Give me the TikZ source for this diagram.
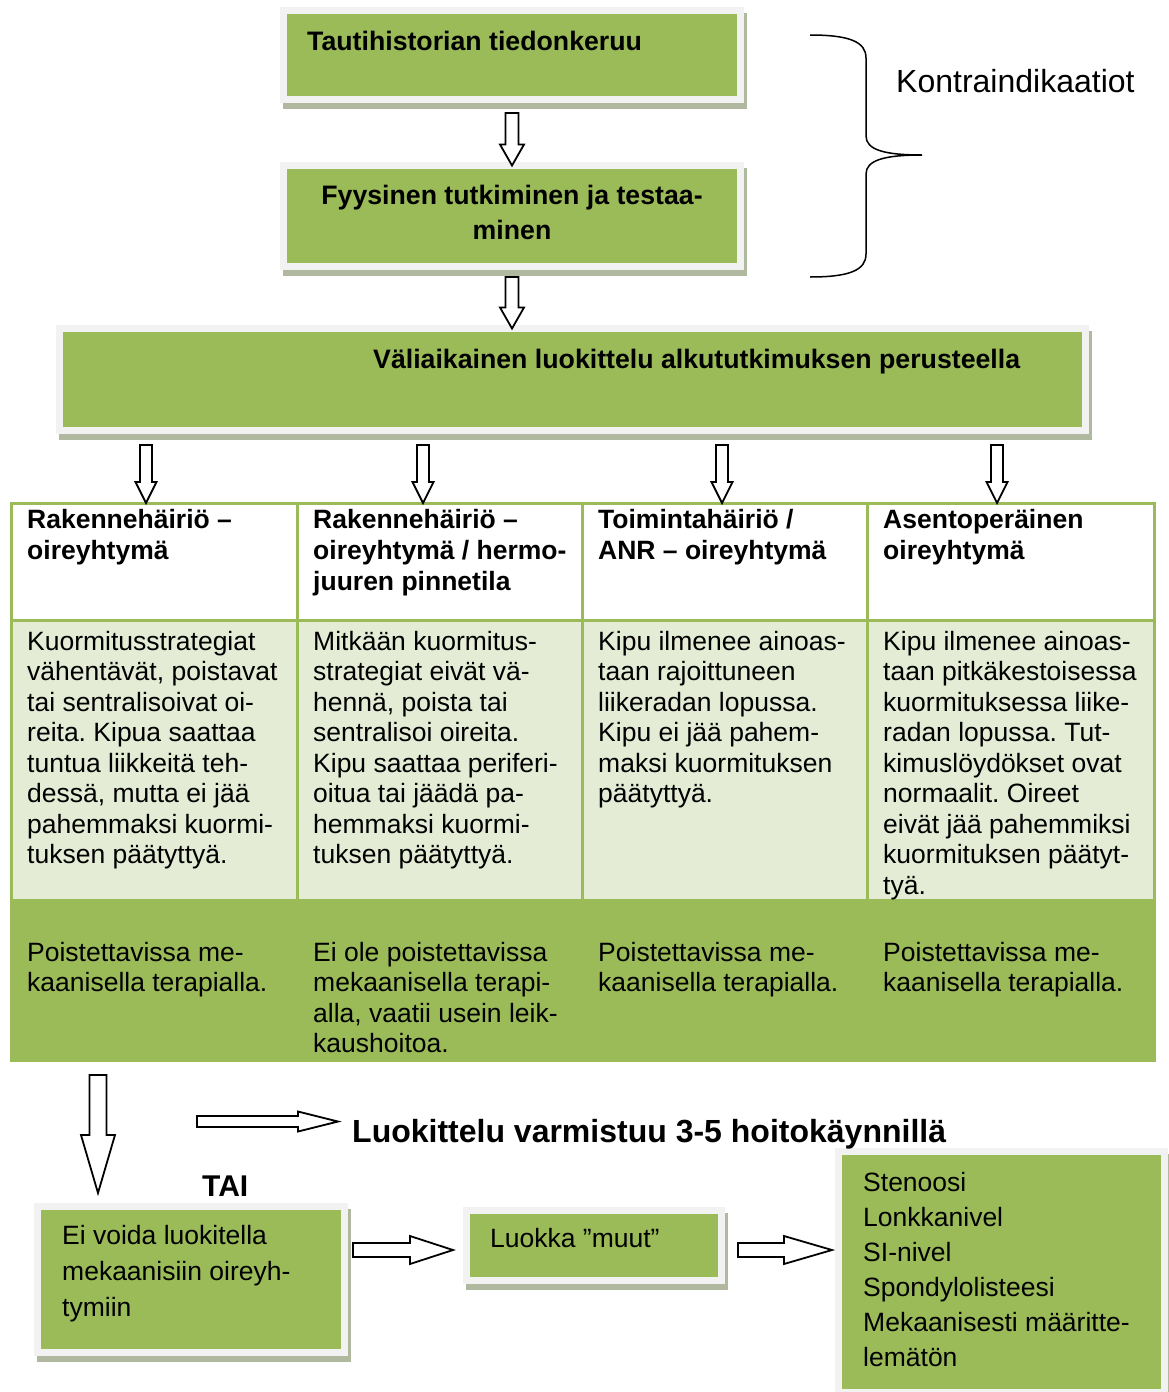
\documentclass[tikz,border=0pt]{standalone}
\usepackage{fontspec}
\setmainfont{Liberation Sans}
\usetikzlibrary{calc}
\frenchspacing

\definecolor{boxgreen}{HTML}{9BBB59}
\definecolor{palegreen}{HTML}{E4ECD5}
\definecolor{framegray}{HTML}{F2F2F2}
\definecolor{shadowgray}{HTML}{B1B8A0}

\newcommand{\bodysize}{\fontsize{26.5}{30.5}\selectfont}

\tikzset{
    gbox/.style={draw=framegray, fill=boxgreen, line width=7pt, outer sep=0pt, inner sep=0pt,
        preaction={draw=shadowgray, fill=shadowgray, transform canvas={shift={(3pt,-6pt)}}}},
    cell/.style={anchor=north west, line width=3pt, outer sep=0pt, inner sep=0pt},
    headcell/.style={cell, draw=boxgreen, fill=white, minimum height=117pt},
    bodycell/.style={cell, draw=boxgreen, fill=palegreen, minimum height=280pt},
    greencell/.style={cell, draw=boxgreen, fill=boxgreen, minimum height=160pt},
    body/.style={anchor=north west, align=left, inner sep=0pt, font=\bodysize},
    hdr/.style={body, font=\bfseries\fontsize{26.5}{31}\selectfont},
    title/.style={inner sep=0pt, font=\bfseries\fontsize{26.7}{31}\selectfont},
    downblock/.style n args={3}{draw, fill=white, line width=1.8pt,
        to path={let \p1=(\tikztostart), \p2=(\tikztotarget) in
            (\x1-#1,\y1) -- (\x1-#1,\y2+#3) -- (\x1-#2,\y2+#3) -- (\x1,\y2)
            -- (\x1+#2,\y2+#3) -- (\x1+#1,\y2+#3) -- (\x1+#1,\y1) -- cycle}},
    rightblock/.style n args={3}{draw, fill=white, line width=1.8pt,
        to path={let \p1=(\tikztostart), \p2=(\tikztotarget) in
            (\x1,\y1+#1) -- (\x2-#3,\y1+#1) -- (\x2-#3,\y1+#2) -- (\x2,\y1)
            -- (\x2-#3,\y1-#2) -- (\x2-#3,\y1-#1) -- (\x1,\y1-#1) -- cycle}},
    colarrow/.style={downblock={6pt}{10.5pt}{21pt}}
}

\begin{document}
\begin{tikzpicture}[x=1pt,y=-1pt]
    \useasboundingbox (0,0) rectangle (1169,1392);

    % first steps
    \node[gbox, minimum width=457pt, minimum height=89pt] (tauti) at (512,55) {};
    \node[gbox, minimum width=457pt, minimum height=101pt] (fyys) at (512,216) {};
    \node[gbox, minimum width=1026pt, minimum height=102pt] (vali) at (572.5,379.5) {};

    \node[title, anchor=base west] (tauti-t) at (307,50) {Tautihistorian tiedonkeruu};
    \node[title, align=center, anchor=north, font=\bfseries\fontsize{26.7}{35}\selectfont] (fyys-t) at (512,185)
        {Fyysinen tutkiminen ja testaa-\\minen};
    \node[title, anchor=base west] (vali-t) at (373,368) {Väliaikainen luokittelu alkututkimuksen perusteella};

    \draw[line width=1.5pt] (810,35) .. controls (850,35) and (866,42) .. (866,58) -- (866,136)
        .. controls (866,150) and (885,155) .. (922,155)
        .. controls (885,155) and (866,160) .. (866,174) -- (866,254)
        .. controls (866,270) and (850,277) .. (810,277);
    \node[inner sep=0pt, anchor=base west, font=\fontsize{32}{38}\selectfont] (kontra) at (896,92) {Kontraindikaatiot};

    \draw[downblock={6.5pt}{12pt}{21pt}] ([yshift=-13.5pt]tauti.south) to (fyys.north);
    \draw[downblock={6.5pt}{12pt}{21pt}] ([yshift=-10.5pt]fyys.south) to (fyys.south |- vali.north);

    % the table
    \node[headcell, minimum width=286pt] (h1) at (11,503) {};
    \node[headcell, minimum width=285pt] (h2) at (297,503) {};
    \node[headcell, minimum width=285pt] (h3) at (582,503) {};
    \node[headcell, minimum width=287pt] (h4) at (867,503) {};
    \node[bodycell, minimum width=286pt] (b1) at (11,620) {};
    \node[bodycell, minimum width=285pt] (b2) at (297,620) {};
    \node[bodycell, minimum width=285pt] (b3) at (582,620) {};
    \node[bodycell, minimum width=287pt] (b4) at (867,620) {};
    \node[greencell, minimum width=286pt] (g1) at (11,900) {};
    \node[greencell, minimum width=285pt] (g2) at (297,900) {};
    \node[greencell, minimum width=285pt] (g3) at (582,900) {};
    \node[greencell, minimum width=287pt] (g4) at (867,900) {};

    \draw[colarrow] ($(vali.south -| h1.north)+(-8,14.5)$) to (h1.north);
    \draw[colarrow] ($(vali.south -| h2.north)+(-16.5,14.5)$) to (h2.north);
    \draw[colarrow] ($(vali.south -| h3.north)+(-2.5,14.5)$) to (h3.north);
    \draw[colarrow] ($(vali.south -| h4.north)+(-13.5,14.5)$) to (h4.north);

    \node[hdr] (h1-t) at ([shift={(16,6)}]h1.north west) {Rakennehäiriö –\\oireyhtymä};
    \node[hdr] (h2-t) at ([shift={(16,6)}]h2.north west) {Rakennehäiriö –\\oireyhtymä / hermo-\\juuren pinnetila};
    \node[hdr] (h3-t) at ([shift={(16,6)}]h3.north west) {Toimintahäiriö /\\ANR – oireyhtymä};
    \node[hdr] (h4-t) at ([shift={(16,6)}]h4.north west) {Asentoperäinen\\oireyhtymä};

    \node[body] (b1-t) at ([shift={(16,11)}]b1.north west) {Kuormitusstrategiat\\vähentävät, poistavat\\tai sentralisoivat oi-\\reita. Kipua saattaa\\tuntua liikkeitä teh-\\dessä, mutta ei jää\\pahemmaksi kuormi-\\tuksen päätyttyä.};
    \node[body] (b2-t) at ([shift={(16,11)}]b2.north west) {Mitkään kuormitus-\\strategiat eivät vä-\\hennä, poista tai\\sentralisoi oireita.\\Kipu saattaa periferi-\\oitua tai jäädä pa-\\hemmaksi kuormi-\\tuksen päätyttyä.};
    \node[body] (b3-t) at ([shift={(16,11)}]b3.north west) {Kipu ilmenee ainoas-\\taan rajoittuneen\\liikeradan lopussa.\\Kipu ei jää pahem-\\maksi kuormituksen\\päätyttyä.};
    \node[body] (b4-t) at ([shift={(16,11)}]b4.north west) {Kipu ilmenee ainoas-\\taan pitkäkestoisessa\\kuormituksessa liike-\\radan lopussa. Tut-\\kimuslöydökset ovat\\normaalit. Oireet\\eivät jää pahemmiksi\\kuormituksen päätyt-\\tyä.};

    \node[body] (g1-t) at ([shift={(16,42)}]g1.north west) {Poistettavissa me-\\kaanisella terapialla.};
    \node[body] (g2-t) at ([shift={(16,42)}]g2.north west) {Ei ole poistettavissa\\mekaanisella terapi-\\alla, vaatii usein leik-\\kaushoitoa.};
    \node[body] (g3-t) at ([shift={(16,42)}]g3.north west) {Poistettavissa me-\\kaanisella terapialla.};
    \node[body] (g4-t) at ([shift={(16,42)}]g4.north west) {Poistettavissa me-\\kaanisella terapialla.};

    % after the table
    \node[gbox, minimum width=307pt, minimum height=146pt] (eivoida) at (191,1279.5) {};
    \node[gbox, minimum width=255pt, minimum height=70pt] (luokka) at (594,1245.5) {};
    \node[gbox, minimum width=326pt, minimum height=241pt] (list) at (1001.5,1272) {};

    \node[title, anchor=base west, font=\bfseries\fontsize{32}{38}\selectfont] (luok) at (352,1142) {Luokittelu varmistuu 3-5 hoitokäynnillä};
    \node[title, anchor=base west, font=\bfseries\fontsize{30}{36}\selectfont] (tai) at (202,1196) {TAI};

    \node[body, font=\fontsize{26.5}{36}\selectfont] (eivoida-t) at (62,1225) {Ei voida luokitella\\mekaanisiin oireyh-\\tymiin};
    \node[inner sep=0pt, anchor=base west, font=\bodysize] (luokka-t) at (490,1247) {Luokka ”muut”};
    \node[body, font=\fontsize{26.5}{35}\selectfont] (list-t) at (863,1172) {Stenoosi\\Lonkkanivel\\SI-nivel\\Spondylolisteesi\\Mekaanisesti määritte-\\lemätön};

    \coordinate (afree) at (197,1121.5);
    \draw[downblock={8.5pt}{17pt}{58pt}] ($(g1.south)+(-56,15)$) to ($(eivoida.north)+(0,-13.5)$);
    \draw[rightblock={5.5pt}{10pt}{40pt}] (afree) to ([xshift=-14pt]luok.west);
    \draw[rightblock={7pt}{14pt}{43pt}] ($(eivoida.east |- luokka.west)+(8.5,4.5)$) to ([xshift=-13.5pt]luokka.west);
    \draw[rightblock={7pt}{14pt}{48pt}] ($(luokka.east)+(16.5,4.5)$) to ([xshift=-6.5pt]list.west);
\end{tikzpicture}
\end{document}
